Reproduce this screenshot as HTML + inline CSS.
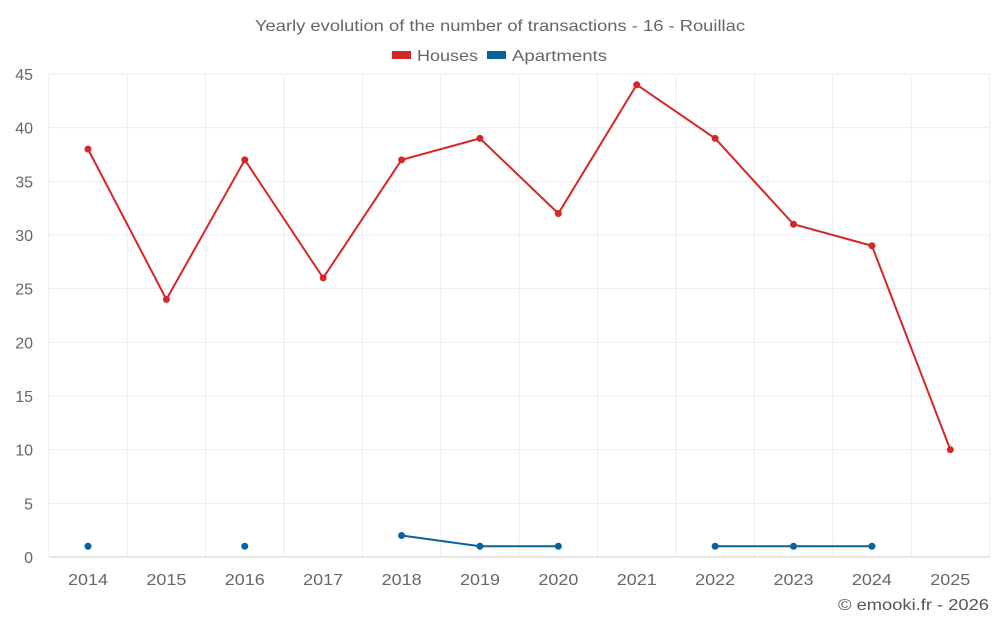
<!DOCTYPE html>
<html><head><meta charset="utf-8">
<style>
body{margin:0;background:#fff;font-family:"Liberation Sans",Roboto,sans-serif;}
svg text{font-family:"Liberation Sans",sans-serif;}
</style></head>
<body>
<svg id="chart" width="1000" height="625" xmlns="http://www.w3.org/2000/svg">
<text x="500" y="31" text-anchor="middle" font-size="16" fill="#666" textLength="490" lengthAdjust="spacingAndGlyphs">Yearly evolution of the number of transactions - 16 - Rouillac</text>
<g>
<g><rect x="392" y="51" width="19" height="8" fill="#d62728"/><text x="417" y="61" font-size="16" fill="#666" textLength="61" lengthAdjust="spacingAndGlyphs">Houses</text></g>
<g><rect x="487" y="51" width="19" height="8" fill="#08629b"/><text x="512" y="61" font-size="16" fill="#666" textLength="95" lengthAdjust="spacingAndGlyphs">Apartments</text></g>
</g>
<g id="grid"></g>
<g id="axes"></g>
<g id="series"></g>
<text x="989" y="610" text-anchor="end" font-size="16" fill="#555" textLength="151" lengthAdjust="spacingAndGlyphs">© emooki.fr - 2026</text>
</svg>
<script>
const years=["2014","2015","2016","2017","2018","2019","2020","2021","2022","2023","2024","2025"];
const houses=[38,24,37,26,37,39,32,44,39,31,29,10];
const apartments=[1,null,1,null,2,1,1,null,1,1,1,null];
const yTicks=[0,5,10,15,20,25,30,35,40,45];
const NS="http://www.w3.org/2000/svg";
const L=48.8,R=989.5,T=74,B=557,yMax=45;
const bw=(R-L)/years.length;
const xs=i=>L+bw*(i+0.5);
const ys=v=>B-(v/yMax)*(B-T);
function mk(tag,attrs,parent){const e=document.createElementNS(NS,tag);for(const k in attrs)e.setAttribute(k,attrs[k]);parent.appendChild(e);return e;}
const grid=document.getElementById('grid'),axes=document.getElementById('axes'),series=document.getElementById('series');
yTicks.forEach(t=>{
 const l=mk('line',{x1:L,x2:R,y1:ys(t),y2:ys(t),stroke:t===0?'#ccc':'#ededed','stroke-width':1},grid);
 
 
 const tx=mk('text',{x:33,y:ys(t)+6,'text-anchor':'end','font-size':16,fill:'#666'},axes);
 tx.textContent=t;
 
 
});
for(let i=0;i<=years.length;i++){
 const l=mk('line',{x1:L+bw*i,x2:L+bw*i,y1:T,y2:B,stroke:'#ededed','stroke-width':1},grid);
 
 
}
years.forEach((y,i)=>{
 const tx=mk('text',{x:xs(i),y:585,'text-anchor':'middle','font-size':16,fill:'#666',textLength:40,lengthAdjust:'spacingAndGlyphs'},axes);
 tx.textContent=y;
 
 
});
function drawSeries(vals,color,name){
 let seg=[];
 const flush=()=>{if(seg.length>1){const p=mk('polyline',{points:seg.join(' '),fill:'none',stroke:color,'stroke-width':2},series);
  
  }seg=[];};
 vals.forEach((v,i)=>{if(v==null){flush();return;}seg.push(xs(i)+','+ys(v));});
 flush();
 vals.forEach((v,i)=>{if(v==null)return;
  const c=mk('circle',{cx:xs(i),cy:ys(v),r:3.5,fill:color},series);
  
  });
}
drawSeries(houses,'#d62728','houses');
drawSeries(apartments,'#08629b','apartments');
</script>
</body></html>
